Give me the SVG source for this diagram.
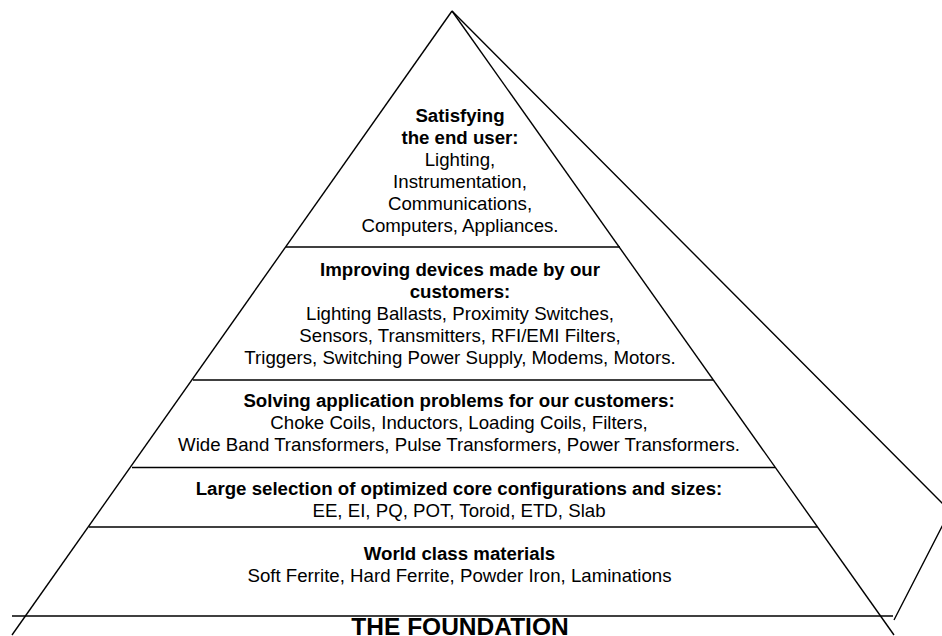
<svg xmlns="http://www.w3.org/2000/svg" width="942" height="636" viewBox="0 0 942 636">
<style>
.ln{stroke:#000;stroke-width:1.4;fill:none}
.hl{stroke:#000;stroke-width:1.6;fill:none}
text{font-family:"Liberation Sans",Arial,sans-serif;font-size:18.67px;fill:#000;text-anchor:middle}
.b{font-weight:bold}
.f{font-weight:bold;font-size:24.5px}
</style>
<rect width="942" height="636" fill="#fff"/>
<g id="connectors">
<line class="ln" x1="452" y1="11" x2="12" y2="635"/>
<line class="ln" x1="452" y1="11" x2="894" y2="635"/>
<polyline class="ln" points="452,11 950,511 894,620"/>
<line class="hl" x1="286" y1="247" x2="620" y2="247"/>
<line class="hl" x1="193" y1="380" x2="713" y2="380"/>
<line class="hl" x1="132" y1="467.5" x2="775" y2="467.5"/>
<line class="hl" x1="89" y1="527" x2="817" y2="527"/>
<line class="hl" x1="12" y1="616" x2="893" y2="616"/>
</g>
<g id="tier1">
<text class="b" x="460" y="122">Satisfying</text>
<text class="b" x="460" y="144">the end user:</text>
<text x="460" y="166">Lighting,</text>
<text x="460" y="188">Instrumentation,</text>
<text x="460" y="210">Communications,</text>
<text x="460" y="232">Computers, Appliances.</text>
</g>
<g id="tier2">
<text class="b" x="460" y="276">Improving devices made by our</text>
<text class="b" x="460" y="298">customers:</text>
<text x="460" y="320">Lighting Ballasts, Proximity Switches,</text>
<text x="460" y="342">Sensors, Transmitters, RFI/EMI Filters,</text>
<text x="460" y="364">Triggers, Switching Power Supply, Modems, Motors.</text>
</g>
<g id="tier3">
<text class="b" x="459" y="407">Solving application problems for our customers:</text>
<text x="459" y="429">Choke Coils, Inductors, Loading Coils, Filters,</text>
<text x="459" y="451">Wide Band Transformers, Pulse Transformers, Power Transformers.</text>
</g>
<g id="tier4">
<text class="b" x="459" y="495">Large selection of optimized core configurations and sizes:</text>
<text x="459" y="517">EE, EI, PQ, POT, Toroid, ETD, Slab</text>
</g>
<g id="tier5">
<text class="b" x="459.5" y="560">World class materials</text>
<text x="459.5" y="582">Soft Ferrite, Hard Ferrite, Powder Iron, Laminations</text>
</g>
<g id="foundation">
<text class="f" x="460" y="634.5">THE FOUNDATION</text>
</g>
</svg>
